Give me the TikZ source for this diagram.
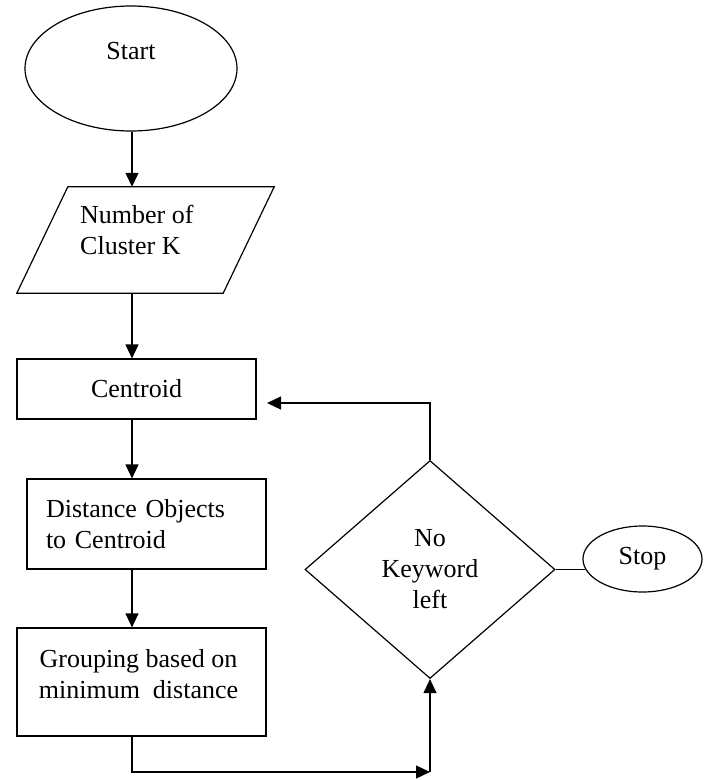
\documentclass[tikz,border=0pt]{standalone}
\usepackage{fontspec}
\setmainfont{Liberation Serif}
\usetikzlibrary{shapes.geometric,arrows.meta,calc}
\begin{document}
\begin{tikzpicture}[x=1pt,y=-1pt,
  every node/.style={font=\fontsize{26}{31}\selectfont},
  line/.style={line width=1.2pt},
  arr/.style={line width=1.2pt,-{Triangle[length=14pt,width=13pt]}},
  box/.style={draw,line width=1.2pt,rectangle,inner sep=0pt},
  txt/.style={inner sep=0pt,align=center}
]
\useasboundingbox (0,0) rectangle (705,780);

% Start
\node[draw,ellipse,line,minimum width=212pt,minimum height=125pt,inner sep=0pt] (start) at (131,68.5) {};
\node[txt] (starttxt) at (131,51) {Start};

% Input parallelogram
\node[minimum width=206pt,minimum height=106pt,inner sep=0pt] (param) at (145.5,240) {};
\draw[line] ($(param.north west)+(25.5,0)$) -- ($(param.north east)+(25.5,0)$)
  -- ($(param.south east)+(-25.5,0)$) -- ($(param.south west)+(-25.5,0)$) -- cycle;
\node[txt,align=left,anchor=west] (paramtxt) at (80,230) {Number of\\Cluster K};

% Process boxes
\node[box,minimum width=239pt,minimum height=60pt] (cent) at (136.5,389) {Centroid};
\node[box,minimum width=239pt,minimum height=90pt,text width=201pt,align=left,inner xsep=19pt] (dist) at (146.5,524) {Distance Objects\\to Centroid};
\node[box,minimum width=249pt,minimum height=108pt] (group) at (141.5,682) {};
\node[txt] (grouptxt) at (138.5,674.5) {Grouping based on\\minimum\ \ distance};

% Decision
\node[draw,diamond,line,minimum width=250pt,minimum height=218pt,inner sep=0pt,align=center] (dec) at (430,569.5) {No\\Keyword\\left};

% Stop
\node[draw,ellipse,line,minimum width=119pt,minimum height=66pt,inner sep=0pt] (stop) at (642.5,559) {Stop};

% Connectors
\coordinate (spine) at (132,0);
\coordinate (low) at (0,772);
\coordinate (corner) at (dec.south |- low);
\coordinate (fb) at (267,403);

\draw[arr] (spine |- start.south) -- (spine |- param.north);
\draw[arr] (spine |- param.south) -- (spine |- cent.north);
\draw[arr] (spine |- cent.south) -- (spine |- dist.north);
\draw[arr] (spine |- dist.south) -- (spine |- group.north);
\draw[arr] (spine |- group.south) |- (corner);
\draw[arr] (corner) -- (dec.south);
\draw[arr] (dec.north) |- (fb);
\draw[line] (dec.east) -- (dec.east -| stop.190);
\end{tikzpicture}
\end{document}
